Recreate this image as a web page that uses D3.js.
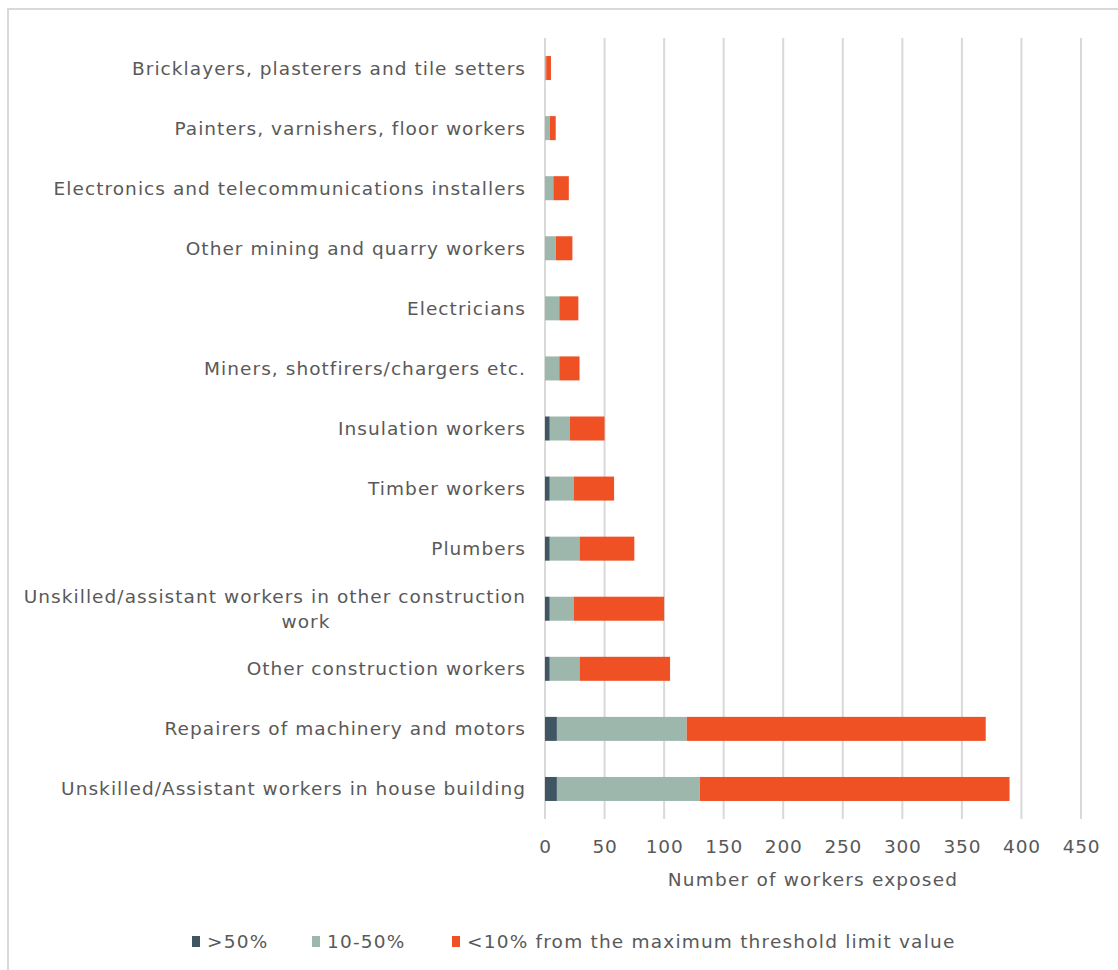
<!DOCTYPE html>
<html><head><meta charset="utf-8">
<script src="https://cdn.jsdelivr.net/npm/d3@7"></script>
<style>body{margin:0;background:#fff;} svg{display:block;} text{font-family:"DejaVu Sans",Verdana,sans-serif;fill:#595959;}</style>
</head><body><svg id="c" width="1118" height="970"></svg>
<script>
const categories = [
  "Bricklayers, plasterers and tile setters",
  "Painters, varnishers, floor workers",
  "Electronics and telecommunications installers",
  "Other mining and quarry workers",
  "Electricians",
  "Miners, shotfirers/chargers etc.",
  "Insulation workers",
  "Timber workers",
  "Plumbers",
  "Unskilled/assistant workers in other construction work",
  "Other construction workers",
  "Repairers of machinery and motors",
  "Unskilled/Assistant workers in house building"
];
const over50 =   [0, 0, 0, 0, 0, 0, 4, 4, 4, 4, 4, 10, 10];
const mid10_50 = [1, 4, 7, 9, 12, 12, 17, 20, 25, 20, 25, 109, 120];
const under10 =  [4, 5, 13, 14, 16, 17, 29, 34, 46, 76, 76, 251, 260];
const seriesNames = [">50%", "10-50%", "<10% from the maximum threshold limit value"];
const xTicks = [0, 50, 100, 150, 200, 250, 300, 350, 400, 450];
const colors = ["#405563", "#9db7ad", "#ef5124"];

const svg = d3.select("#c");
// frame
svg.append("rect").attr("x", 8).attr("y", 9).attr("width", 1130).attr("height", 980)
  .attr("fill", "none").attr("stroke", "#d9d9d9").attr("stroke-width", 2);

const x = d3.scaleLinear().domain([0, 450]).range([545, 1081]);
const y = d3.scaleBand().domain(categories).range([38, 819]).paddingInner(0.6).paddingOuter(0.3);

// gridlines
svg.append("g").selectAll("line").data(xTicks).join("line")
  .attr("x1", d => x(d)).attr("x2", d => x(d)).attr("y1", 38).attr("y2", 819)
  .attr("stroke", "#d9d9d9").attr("stroke-width", 2);

const data = categories.map((c, i) => ({cat: c, v: [over50[i], mid10_50[i], under10[i]]}));
const stacked = d3.stack().keys([0, 1, 2]).value((d, k) => d.v[k])(data);

svg.append("g").selectAll("g").data(stacked).join("g").attr("fill", (d, i) => colors[i])
  .selectAll("rect").data(d => d).join("rect")
  .attr("x", d => x(d[0])).attr("width", d => x(d[1]) - x(d[0]))
  .attr("y", d => y(d.data.cat) + y.bandwidth() / 2 - 12).attr("height", 24);

// category labels
const lab = svg.append("g").attr("font-size", 18.5).attr("letter-spacing", 1.05);
categories.forEach(c => {
  const cy = y(c) + y.bandwidth() / 2;
  if (c.startsWith("Unskilled/assistant workers in other")) {
    lab.append("text").attr("x", 526).attr("y", cy - 12).attr("dy", "0.35em").attr("text-anchor", "end")
      .text("Unskilled/assistant workers in other construction");
    lab.append("text").attr("x", 306).attr("y", cy + 13).attr("dy", "0.35em").attr("text-anchor", "middle")
      .text("work");
  } else {
    lab.append("text").attr("x", 526).attr("y", cy).attr("dy", "0.35em").attr("text-anchor", "end").text(c);
  }
});

// x axis ticks
const axis = d3.axisBottom(x).tickValues(xTicks).tickSize(0).tickPadding(0);
const ag = svg.append("g").attr("transform", "translate(0,847)").call(axis);
ag.select(".domain").remove();
ag.selectAll("text").attr("font-size", 18.5).attr("letter-spacing", 0.8).attr("fill", "#595959").attr("dy", "0.35em").attr("y", 0)
  .style("font-family", '"DejaVu Sans",Verdana,sans-serif');

svg.append("text").attr("x", 813).attr("y", 880).attr("dy", "0.35em").attr("text-anchor", "middle")
  .attr("font-size", 18.5).attr("letter-spacing", 1.2).text("Number of workers exposed");

// legend
const legX = [192, 312, 452];
const lg = svg.append("g");
seriesNames.forEach((n, i) => {
  lg.append("rect").attr("x", legX[i]).attr("y", 936).attr("width", 8).attr("height", 11).attr("fill", colors[i]);
  lg.append("text").attr("x", legX[i] + 15).attr("y", 942).attr("dy", "0.35em").attr("font-size", 18.5)
    .attr("letter-spacing", 1.2).text(n);
});
</script></body></html>
